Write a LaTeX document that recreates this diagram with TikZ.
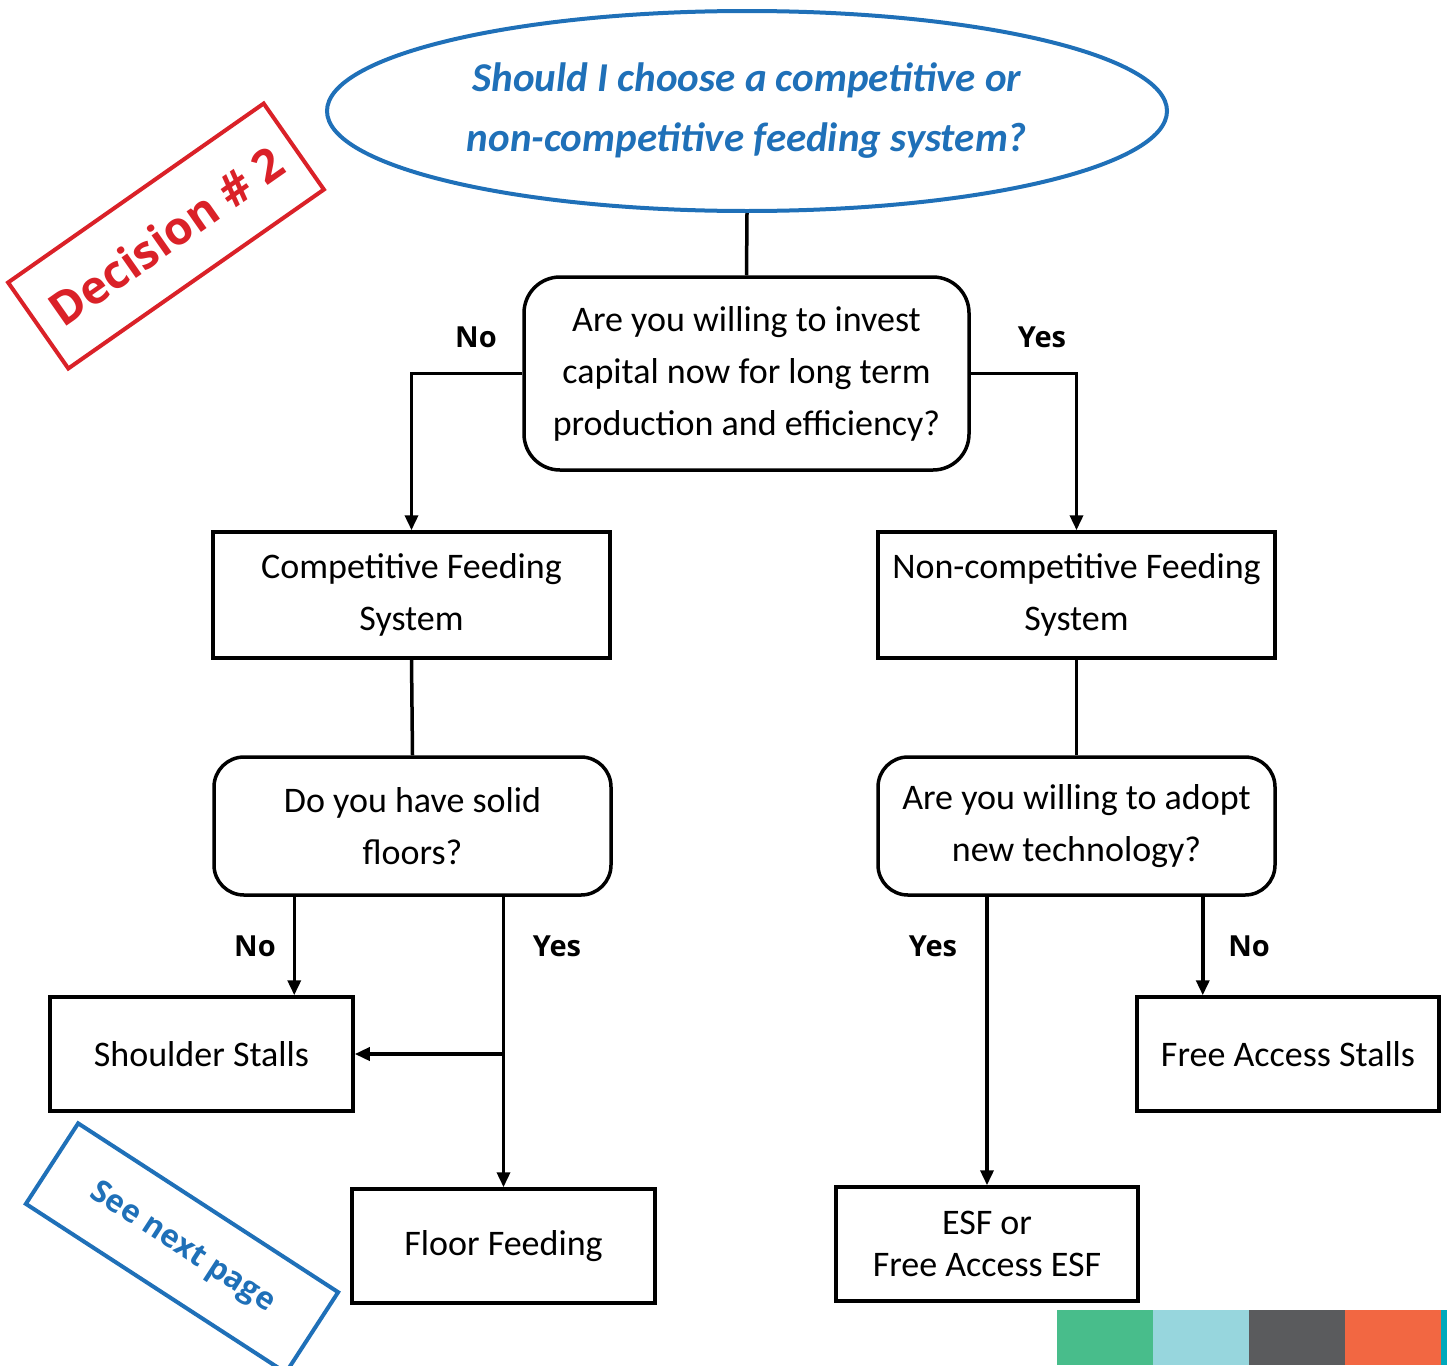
\documentclass[tikz,border=0pt]{standalone}
\usepackage{fontspec}
\setmainfont{Carlito}
\newfontfamily\labfont{Open Sans}
\usetikzlibrary{shapes.geometric,arrows.meta}
\definecolor{dblue}{HTML}{1F70B8}
\definecolor{dred}{HTML}{DA2128}
\definecolor{cgreen}{HTML}{48BD8B}
\definecolor{clblue}{HTML}{97D6DD}
\definecolor{cgray}{HTML}{5A5B5D}
\definecolor{corange}{HTML}{F26742}
\definecolor{cteal}{HTML}{00A9BC}
\tikzset{
  box/.style={draw=black,line width=3.5pt,inner sep=0pt,align=center,
    font=\fontsize{36}{52}\selectfont},
  qbox/.style={box,rounded corners=30pt},
  arr/.style={line width=3.5pt,-{Triangle[length=15pt,width=13pt]}},
  conn/.style={line width=3.5pt},
  lab/.style={font=\labfont\bfseries\fontsize{29}{34}\selectfont,inner sep=0pt},
  stamp/.style={line width=4pt,inner sep=0pt,font=\labfont\bfseries}
}
\begin{document}
\begin{tikzpicture}[x=1pt,y=-1pt]
\useasboundingbox (0,0) rectangle (1447,1365);
% colour bar
\fill[cgreen] (1057,1310) rectangle (1153,1365);
\fill[clblue] (1153,1310) rectangle (1249,1365);
\fill[cgray] (1249,1310) rectangle (1345,1365);
\fill[corange] (1345,1310) rectangle (1441,1365);
\fill[cteal] (1441,1310) rectangle (1447,1365);

\node[ellipse,draw=dblue,line width=4pt,minimum width=840pt,minimum height=200pt,inner sep=0pt,
  text=dblue,align=center,font=\bfseries\itshape\fontsize{41}{60}\selectfont] (top) at (747,111)
  {Should I choose a competitive or\\non-competitive feeding system?};

\node[qbox,rounded corners=36pt,minimum width=445pt,minimum height=193pt] (q1) at (746.5,373.5)
  {Are you willing to invest\\capital now for long term\\production and efficiency?};
\node[box,minimum width=397pt,minimum height=126pt] (comp) at (411.5,595)
  {Competitive Feeding\\System};
\node[box,minimum width=397pt,minimum height=126pt] (noncomp) at (1076.5,595)
  {Non-competitive Feeding\\System};
\node[qbox,minimum width=397pt,minimum height=138pt] (solid) at (412.5,826)
  {Do you have solid\\floors?};
\node[qbox,minimum width=397pt,minimum height=138pt] (adopt) at (1076.5,826)
  {Are you willing to adopt\\new technology?};
\node[box,minimum width=303pt,minimum height=114pt] (shoulder) at (201.5,1054)
  {Shoulder Stalls};
\node[box,minimum width=303pt,minimum height=114pt] (floor) at (503.5,1246)
  {Floor Feeding};
\node[box,minimum width=302pt,minimum height=114pt] (fas) at (1288,1054)
  {Free Access Stalls};
\node[box,minimum width=302pt,minimum height=114pt,font=\fontsize{36}{42}\selectfont] (esf) at (987,1244)
  {ESF or\\Free Access ESF};

% connectors
\draw[conn] (top.south) -- (q1.north);
\draw[arr] (q1.west) -| (comp.north);
\draw[arr] (q1.east) -| (noncomp.north);
\draw[conn] (comp.south) -- (solid.north);
\draw[conn] (noncomp.south) -- (adopt.north);
\draw[arr] ([xshift=82pt]solid.south west) -- ([xshift=82pt]solid.south west |- shoulder.north);
\draw[arr] (solid.south -| floor.north) -- (floor.north);
\coordinate (br) at (floor.north |- shoulder.east);
\draw[arr] (br) -- (shoulder.east);
\draw[arr] (adopt.south -| esf.north) -- (esf.north);
\draw[arr] ([xshift=-74pt]adopt.south east) -- ([xshift=-74pt]adopt.south east |- fas.north);

% labels
\node[lab] (l1) at (476,337) {No};
\node[lab] (l2) at (1042,337) {Yes};
\node[lab] (l3) at (255,946) {No};
\node[lab] (l4) at (557,946) {Yes};
\node[lab] (l5) at (933,946) {Yes};
\node[lab] (l6) at (1249,946) {No};

% stamps
\node[stamp,draw=dred,text=dred,rotate=35,minimum width=312pt,minimum height=105pt,
  font=\labfont\bfseries\fontsize{46}{50}\selectfont] (dec) at (166,236) {Decision \# 2};
\node[stamp,draw=dblue,text=dblue,rotate=-33,minimum width=310pt,minimum height=96pt,
  font=\labfont\bfseries\fontsize{31}{36}\selectfont] (snp) at (182,1248) {See next page};
\end{tikzpicture}
\end{document}
